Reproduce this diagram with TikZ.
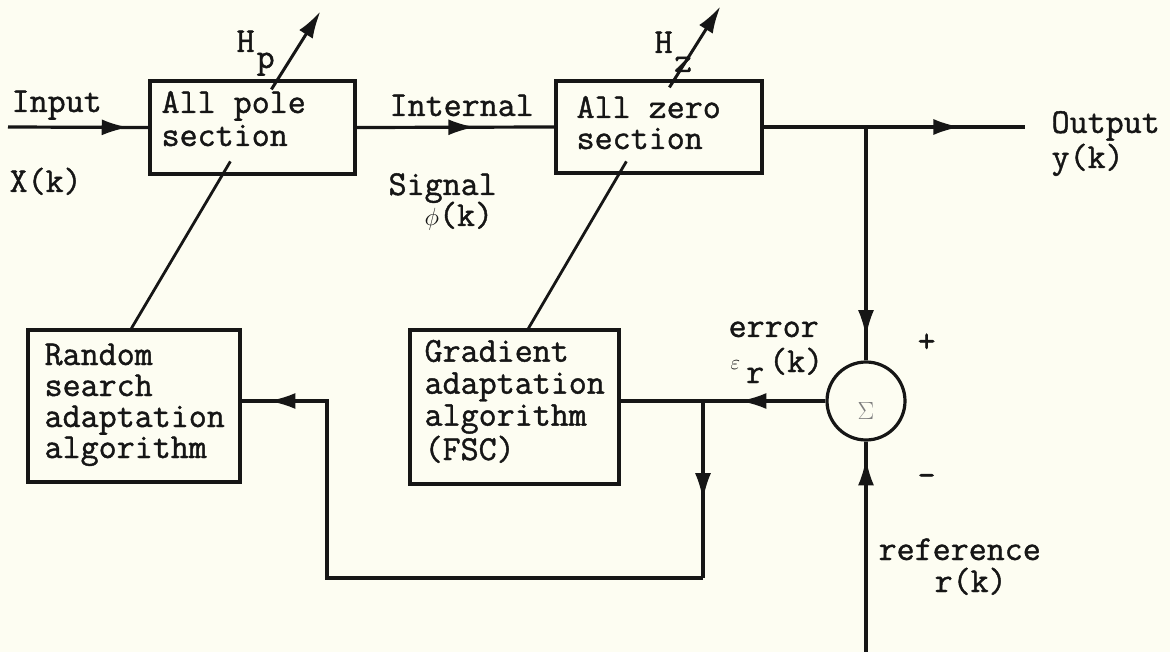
\documentclass[tikz,border=0pt]{standalone}
\usepackage{fontspec}
\setmonofont{Latin Modern Mono}[FakeBold=1.2]
\usetikzlibrary{arrows.meta,decorations.markings,calc}
\definecolor{paper}{RGB}{253,253,242}
\definecolor{ink}{RGB}{22,22,22}
\begin{document}
\begin{tikzpicture}[x=1pt,y=-1pt,line width=3.2pt,draw=ink,
  box/.style={draw=ink,rectangle,inner sep=0pt,line width=3.2pt},
  txt/.style={inner sep=0pt,anchor=base west,text=ink,align=left,font=\fontsize{35}{31}\selectfont\ttfamily},
  midarr/.style={postaction={decorate},decoration={markings,mark=at position #1 with {\arrow{Latex[length=27pt,width=16pt]}}}},
  tiparr/.style={-{Latex[length=27pt,width=16pt]}}]
\fill[paper] (0,0) rectangle (1170,652);
\useasboundingbox (0,0) rectangle (1170,652);

% blocks
\node[box,minimum width=205,minimum height=93] (pole) at (252.5,127.5) {};
\node[box,minimum width=206,minimum height=92] (zero) at (659,127) {};
\node[box,minimum width=212,minimum height=152] (rand) at (134,406) {};
\node[box,minimum width=209,minimum height=154] (grad) at (514.5,407) {};
\node[draw=ink,circle,minimum size=78,inner sep=0pt,line width=3.2pt] (sum) at (866,401) {};
\node[inner sep=0pt,text=ink!55] (sig) at (866,411) {\fontsize{26}{26}\selectfont$\Sigma$};

% texts in blocks (anchored at the baseline of the last line)
\node[txt] (tpole) at (160,146) {All pole\\[2pt]section};
\node[txt] (tzero) at (575,149) {All zero\\section};
\node[txt] (trand) at (43,458) {Random\\search\\adaptation\\algorithm};
\node[txt] (tgrad) at (423,460) {Gradient\\[1pt]adaptation\\[1pt]algorithm\\[1pt](FSC)};

% outside labels
\node[txt] (lin) at (10,112) {Input};
\node[txt] (lx) at (8,192) {X(k)};
\node[txt] (lint) at (388,116) {Internal};
\node[txt] (lsig) at (387,195) {Signal};
\node[txt] (lphi) at (423,226) {$\phi$(k)};
\node[txt] (lout) at (1050,168) {Output\\[2pt]y(k)};
\node[txt] (lhp) at (235,52) {H\hspace{2pt}\raisebox{-16pt}{p}};
\node[txt] (lhz) at (653,53) {H\hspace{1.5pt}\raisebox{-19pt}{z}};
\node[txt] (lerr) at (727,337) {error};
\node[txt] (leps) at (729,372) {\raisebox{3pt}{\fontsize{20}{20}\selectfont$\varepsilon$}\hspace{6pt}\raisebox{-11pt}{r}\hspace{5pt}(k)};
\node[txt] (lplus) at (916,352) {+};
\node[txt] (lminus) at (916,486) {-};
\node[txt] (lref) at (877,560) {reference};
\node[txt] (lrk) at (933,592) {r(k)};

% coordinates
\coordinate (in) at (8,127);
\coordinate (out) at (1025,127);
\coordinate (j1) at (866,127);
\coordinate (refin) at (866,652);
\coordinate (j2) at (703,401);
\coordinate (j3) at (703,578);
\coordinate (j4) at (327,578);
\coordinate (j5) at (327,401);

% signal path
\draw[midarr=0.86] (in) -- (pole.west);
\draw[midarr=0.6] (pole.east) -- (zero.west);
\draw[midarr=0.753] (zero.east) -- (out);
\draw[midarr=0.9] (j1) -- (sum.north);
\draw[midarr=0.92] (refin) -- (sum.south);
\draw[midarr=0.42] (sum.west) -- (grad.east |- sum.west);
\draw[midarr=0.56] (j2) -- (j3);
\draw[midarr=0.958] (j3) -- (j4) -- (j5) -- (rand.east |- j5);

% adaptation links
\draw[line width=2.8pt] ($(rand.north west)+(105,0)$) -- ++(99,-167);
\draw[line width=2.8pt] ($(grad.north west)+(120,0)$) -- ++(98,-167);

% variable-parameter arrows
\draw[tiparr,line width=3pt] ($(pole.north west)+(123,10)$) -- ++(49,-78);
\draw[tiparr,line width=3pt] ($(zero.north west)+(115,8)$) -- ++(51,-81);
\end{tikzpicture}
\end{document}
